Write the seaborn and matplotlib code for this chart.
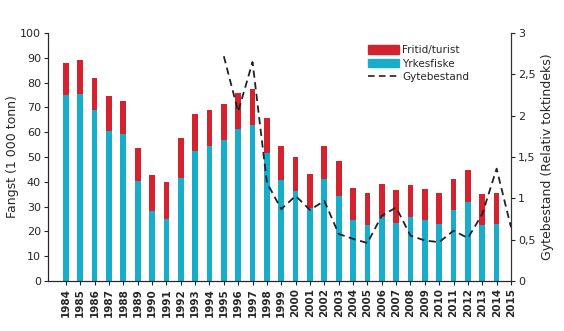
import matplotlib
matplotlib.use("Agg")
import matplotlib.pyplot as plt
import seaborn as sns
import pandas as pd
import numpy as np
from matplotlib.patches import Patch
from matplotlib.lines import Line2D

years = [str(y) for y in range(1984, 2016)]
bar_years = [str(y) for y in range(1984, 2015)]
yrkesfiske = [75, 75.5, 69, 60.5, 59.5, 40.3, 28.2, 25, 41.5, 52.3, 54.3, 57, 61.3, 63, 51.5, 40.6,
              36.3, 29.6, 41, 34.3, 24.5, 22.5, 26, 23.6, 25.8, 24.6, 22.9, 28.5, 31.9, 22.5, 23.2]
fritid = [13, 13.5, 13, 14, 13.2, 13.5, 14.5, 15, 16.2, 15, 14.8, 14.6, 14.7, 14.6, 14.4, 14,
          13.8, 13.4, 13.3, 14, 13.1, 13.1, 13.2, 13.1, 12.8, 12.6, 12.7, 12.7, 12.7, 12.7, 12.4]
gyte_years = [str(y) for y in range(1995, 2016)]
gytebestand = [2.72, 2.05, 2.65, 1.19, 0.87, 1.03, 0.86, 0.97, 0.57, 0.51, 0.46, 0.79, 0.89,
               0.55, 0.49, 0.47, 0.61, 0.52, 0.81, 1.36, 0.65]

teal = "#18AECB"
red = "#D2232F"

df = pd.DataFrame({"year": bar_years, "yrkes": yrkesfiske,
                   "total": np.array(yrkesfiske) + np.array(fritid)})

sns.set_style("white")
plt.rcParams["font.family"] = ["DejaVu Sans"]

fig = plt.figure(figsize=(5.64, 3.31), dpi=100)
ax = fig.add_axes([0.085, 0.151, 0.821, 0.749])

sns.barplot(data=df, x="year", y="total", order=years, color=red, width=0.4,
            saturation=1, ax=ax, linewidth=0)
sns.barplot(data=df, x="year", y="yrkes", order=years, color=teal, width=0.4,
            saturation=1, ax=ax, linewidth=0)

ax.set_xlim(-1.25, len(years) - 1)
ax.set_ylim(0, 100)
ax.set_yticks(range(0, 101, 10))
ax.set_xlabel("")
ax.set_ylabel("Fangst (1 000 tonn)", fontsize=9, labelpad=1)
ax.tick_params(axis="y", labelsize=8, length=3, width=0.8, direction="out", left=True, pad=2)
ax.tick_params(axis="x", labelsize=7.5, length=3, width=0.8, direction="out", bottom=True,
               rotation=90, pad=2)
for lbl in ax.get_xticklabels():
    lbl.set_fontweight("bold")
for s in ["left", "bottom", "right"]:
    ax.spines[s].set_visible(True)
    ax.spines[s].set_color("#333333")
    ax.spines[s].set_linewidth(0.8)
ax.spines["top"].set_visible(False)

ax2 = ax.twinx()
gpos = [years.index(y) for y in gyte_years]
sns.lineplot(x=gpos, y=gytebestand, ax=ax2, color="#222222", linewidth=1.3,
             linestyle=(0, (4, 2.5)))
ax2.set_ylim(0, 3)
ax2.set_yticks([0, 0.5, 1, 1.5, 2, 2.5, 3])
ax2.set_yticklabels(["0", "0,5", "1", "1,5", "2", "2,5", "3"])
ax2.set_ylabel("Gytebestand (Relativ toktindeks)", fontsize=9)
ax2.tick_params(axis="y", labelsize=8, length=3, width=0.8, direction="out", right=True, pad=2)
ax2.spines["top"].set_visible(False)
ax2.spines["right"].set_color("#333333")
ax2.spines["right"].set_linewidth(0.8)
ax2.set_xlim(-1.25, len(years) - 1)

handles = [Patch(color=red, label="Fritid/turist"),
           Patch(color=teal, label="Yrkesfiske"),
           Line2D([0], [0], color="#222222", linestyle=(0, (4, 2.5)), linewidth=1.2,
                  label="Gytebestand")]
ax2.legend(handles=handles, loc="upper left", bbox_to_anchor=(0.67, 0.99), frameon=False,
           fontsize=7.5, handlelength=3.0, handleheight=0.9, labelspacing=0.35,
           handletextpad=0.3)

fig.savefig("out.png", dpi=100)
